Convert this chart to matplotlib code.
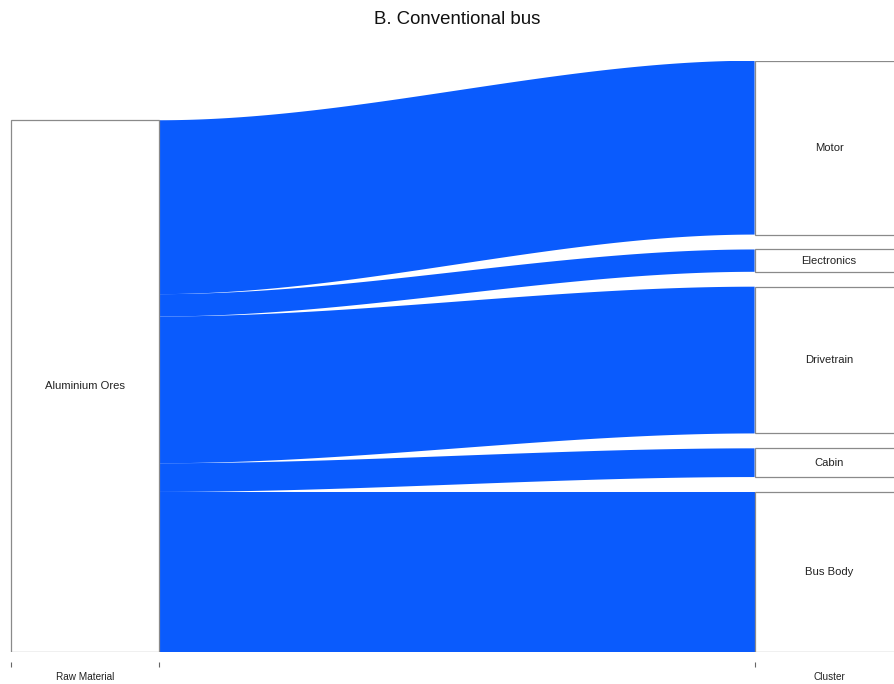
import numpy as np
import matplotlib
matplotlib.use("Agg")
import matplotlib.pyplot as plt
from matplotlib.patches import Rectangle, Polygon

plt.rcParams['font.family'] = ['Liberation Sans', 'DejaVu Sans']

# Stages (axis categories) and nodes
stages = ["Raw Material", "Cluster"]
source = "Aluminium Ores"
clusters = ["Motor", "Electronics", "Drivetrain", "Cabin", "Bus Body"]
shares = [32.7, 4.2, 27.6, 5.4, 30.1]   # % of aluminium by cluster

title = "B. Conventional bus"
flow_color = "#0a5bfd"
edge_color = "#8a8a8a"

node_w = 0.2      # stratum width in stage units
gap = 2.8         # vertical gap between right-hand strata (value units)

total = sum(shares)
height = total + gap * (len(clusters) - 1)

W, H = 894, 684
fig = plt.figure(figsize=(W / 100, H / 100), dpi=100)
ax = fig.add_axes([0, (H - 652) / H, 1, (652 - 60.7) / H])

# Left stratum: single source, bottom-aligned
ax.add_patch(Rectangle((0 - node_w / 2, 0), node_w, total, facecolor="white",
                       edgecolor=edge_color, lw=0.9, zorder=3))
ax.text(0, total / 2, source, ha="center", va="center", fontsize=8.1,
        color="#222222", zorder=4)

# Flow ribbons and right strata
t = np.linspace(0, 1, 200)
s = 3 * t ** 2 - 2 * t ** 3
x0, x1 = 0 + node_w / 2, 1 - node_w / 2
xs = x0 + (x1 - x0) * t

left_top = total
right_top = height
for name, v in zip(clusters, shares):
    l_hi, l_lo = left_top, left_top - v
    r_hi, r_lo = right_top, right_top - v
    upper = l_hi + (r_hi - l_hi) * s
    lower = l_lo + (r_lo - l_lo) * s
    pts = np.vstack([np.column_stack([xs, upper]),
                     np.column_stack([xs[::-1], lower[::-1]])])
    ax.add_patch(Polygon(pts, closed=True, facecolor=flow_color,
                         edgecolor="none", zorder=2))
    ax.add_patch(Rectangle((1 - node_w / 2, r_lo), node_w, v, facecolor="white",
                           edgecolor=edge_color, lw=0.9, zorder=3))
    ax.text(1, r_lo + v / 2, name, ha="center", va="center", fontsize=8.1,
            color="#222222", zorder=4)
    left_top -= v
    right_top -= v + gap

# Axis: small ticks at stratum edges, labels at stage centres
for sp in ax.spines.values():
    sp.set_visible(False)
ax.spines['bottom'].set_position(('outward', 7))
ax.set_yticks([])
ax.set_xticks([0, 1])
ax.set_xticklabels(stages, fontsize=7.2, color="#222222")
ax.tick_params(axis="x", which="major", length=0, pad=7.2)
ax.set_xticks([-node_w / 2, node_w / 2, 1 - node_w / 2], minor=True)
ax.tick_params(axis="x", which="minor", length=3.6, width=0.8, color="#666666",
               direction="out")

ax.set_xlim(-85 / 744, (W - 85) / 744)
ax.set_ylim(0, height)

fig.text(457 / W, 1 - 19 / H, title, ha="center", va="center", fontsize=13.4,
         color="#111111")

fig.savefig("out.png", dpi=100)
